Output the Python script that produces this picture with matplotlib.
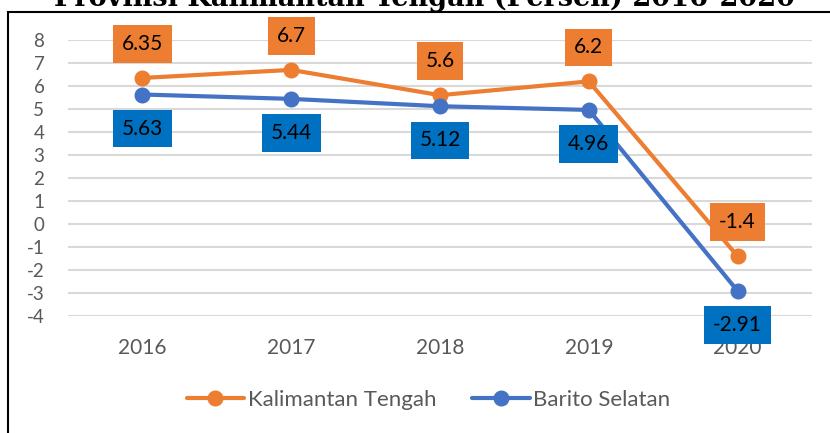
import matplotlib
matplotlib.use("Agg")
import matplotlib.pyplot as plt
from matplotlib.patches import Rectangle

# data
years = ["2016", "2017", "2018", "2019", "2020"]
kalteng = [6.35, 6.7, 5.6, 6.2, -1.4]
barsel = [5.63, 5.44, 5.12, 4.96, -2.91]
y_ticks = [8, 7, 6, 5, 4, 3, 2, 1, 0, -1, -2, -3, -4]

title = "Provinsi Kalimantan Tengah (Persen) 2016-2020"

orange = "#ED7D31"
blue = "#4472C4"
blue_box = "#0070C0"
grey_txt = "#595959"

plt.rcParams["font.family"] = ["Lato", "DejaVu Sans"]

fig = plt.figure(figsize=(8.3, 4.33), dpi=100)
ax = fig.add_axes([68 / 830, 117 / 433, 744 / 830, 276 / 433])

x = list(range(len(years)))
ax.plot(x, kalteng, color=orange, lw=3, marker="o", ms=10.5,
        label="Kalimantan Tengah", solid_capstyle="round", clip_on=False, zorder=3)
ax.plot(x, barsel, color=blue, lw=3, marker="o", ms=10.5,
        label="Barito Selatan", solid_capstyle="round", clip_on=False, zorder=3)

# data labels
for xi, v in zip(x, kalteng):
    ax.annotate(f"{v:g}", (xi, v), xytext=(0, 24.5), textcoords="offset points",
                ha="center", va="center", fontsize=15, color="black", zorder=5,
                bbox=dict(boxstyle="square,pad=0.42", fc=orange, ec="none"))
for xi, v in zip(x, barsel):
    ax.annotate(f"{v:g}", (xi, v), xytext=(0, -24.5), textcoords="offset points",
                ha="center", va="center", fontsize=15, color="black", zorder=5,
                bbox=dict(boxstyle="square,pad=0.42", fc=blue_box, ec="none"))

ax.set_xlim(-0.5, len(years) - 0.5)
ax.set_ylim(-4, 8)
ax.set_yticks(y_ticks)
ax.set_yticklabels([str(t) for t in y_ticks])
ax.set_xticks(x)
ax.set_xticklabels(years)
ax.grid(axis="y", color="#D9D9D9", lw=1.5)
ax.set_axisbelow(True)
for s in ax.spines.values():
    s.set_visible(False)
ax.tick_params(axis="y", length=0, pad=17, labelsize=13.5, labelcolor=grey_txt)
ax.tick_params(axis="x", length=0, pad=16, labelsize=15, labelcolor=grey_txt)

fig.legend(loc="center", bbox_to_anchor=(0.516, 33 / 433), ncol=2, frameon=False,
           fontsize=16, labelcolor=grey_txt, handlelength=2.6, handletextpad=0.15,
           columnspacing=1.6)

# outer chart border, cut by the image edge
fig.patches.append(Rectangle((8 / 830, -0.1), 1.2, 1.1 - 12 / 433, transform=fig.transFigure,
                             fill=False, ec="black", lw=1.5))

# title is cut by the top edge, as in the source picture
fig.text(424 / 830, 1 - 6 / 433, title, ha="center", va="baseline",
         fontsize=19.5, fontweight="bold", family="DejaVu Serif")

fig.savefig("out.png", dpi=100)
